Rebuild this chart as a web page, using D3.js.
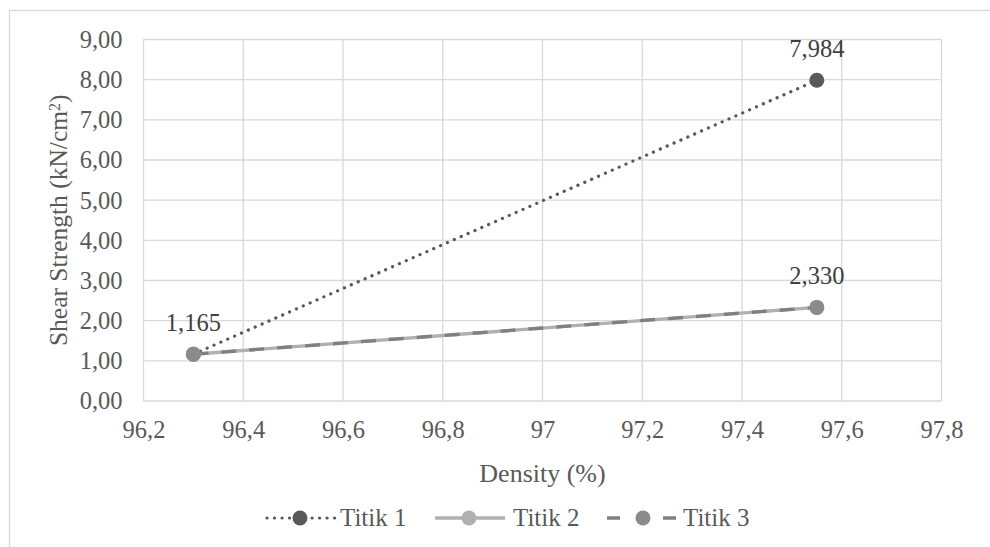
<!DOCTYPE html>
<html>
<head>
<meta charset="utf-8">
<script src="https://cdn.jsdelivr.net/npm/d3@7"></script>
<style>
  body { margin: 0; background: #fff; }
  svg { display: block; }
  svg text { font-family: 'Liberation Serif', 'Times New Roman', serif !important; }
</style>
</head>
<body>
<svg width="990" height="547"></svg>
<script>
// chart values
var density = [96.3, 97.55];
var titik1 = [1.165, 7.984];
var titik2 = [1.165, 2.330];
var titik3 = [1.165, 2.330];
var seriesNames = ["Titik 1", "Titik 2", "Titik 3"];
var xTicks = [96.2, 96.4, 96.6, 96.8, 97, 97.2, 97.4, 97.6, 97.8];
var yTicks = [0, 1, 2, 3, 4, 5, 6, 7, 8, 9];

var svg = d3.select("svg"),
    width = +svg.attr("width"),
    height = +svg.attr("height");

var pLeft = 143.5, pRight = 941.5, pTop = 39.5, pBottom = 401;
var serif = "'Liberation Serif', 'Times New Roman', serif";

var x = d3.scaleLinear().domain([96.2, 97.8]).range([pLeft, pRight]);
var y = d3.scaleLinear().domain([0, 9]).range([pBottom, pTop]);

var fmtX = function(d) { return String(d).replace(".", ","); };
var fmtY = function(d) { return d.toFixed(2).replace(".", ","); };
var fmtLabel = function(d) { return d.toFixed(3).replace(".", ","); };

// outer chart border
svg.append("rect")
    .attr("x", 9.5).attr("y", 10.5)
    .attr("width", 1200).attr("height", 800)
    .attr("fill", "none")
    .attr("stroke", "#d9d9d9")
    .attr("stroke-width", 1.3);

// grid
var grid = svg.append("g").attr("stroke", "#d9d9d9").attr("stroke-width", 1.3);
grid.selectAll(".gx").data(xTicks).enter().append("line")
    .attr("x1", function(d) { return x(d); }).attr("x2", function(d) { return x(d); })
    .attr("y1", pTop).attr("y2", pBottom);
grid.selectAll(".gy").data(yTicks).enter().append("line")
    .attr("y1", function(d) { return y(d); }).attr("y2", function(d) { return y(d); })
    .attr("x1", pLeft).attr("x2", pRight);

// axes (labels only)
var xAxis = svg.append("g")
    .attr("transform", "translate(0," + pBottom + ")")
    .call(d3.axisBottom(x).tickValues(xTicks).tickFormat(fmtX).tickSize(0).tickPadding(20));
var yAxis = svg.append("g")
    .attr("transform", "translate(" + pLeft + ",0)")
    .call(d3.axisLeft(y).tickValues(yTicks).tickFormat(fmtY).tickSize(0).tickPadding(21));
[xAxis, yAxis].forEach(function(a) {
  a.attr("font-family", serif);
  a.select(".domain").remove();
  a.selectAll("text")
      .attr("fill", "#595959")
      .style("font-family", serif)
      .style("font-size", "24.5px");
});

// axis titles
svg.append("text")
    .attr("x", (pLeft + pRight) / 2).attr("y", 482)
    .attr("text-anchor", "middle")
    .attr("fill", "#595959")
    .style("font-family", serif)
    .style("font-size", "26px")
    .text("Density (%)");

var yt = svg.append("text")
    .attr("transform", "translate(67," + (pTop + pBottom) / 2 + ") rotate(-90)")
    .attr("text-anchor", "middle")
    .attr("fill", "#595959")
    .style("font-family", serif)
    .style("font-size", "25.5px");
yt.append("tspan").text("Shear Strength (kN/cm");
yt.append("tspan").attr("dy", "-0.45em").style("font-size", "16px").text("2");
yt.append("tspan").attr("dy", "0.3em").text(")");

// series
var series = [
  { name: seriesNames[0], values: titik1, color: "#595959", marker: "#595959", dash: "0.1 7.4", cap: "round", width: 3.2 },
  { name: seriesNames[1], values: titik2, color: "#b0b0b0", marker: "#b0b0b0", dash: null, cap: "butt", width: 3.4 },
  { name: seriesNames[2], values: titik3, color: "#808080", marker: "#8a8a8a", dash: "15 13", cap: "butt", width: 3.4 }
];

var line = d3.line()
    .x(function(d) { return x(d[0]); })
    .y(function(d) { return y(d[1]); });

series.forEach(function(s) {
  var pts = density.map(function(v, i) { return [v, s.values[i]]; });
  svg.append("path")
      .datum(pts)
      .attr("d", line)
      .attr("fill", "none")
      .attr("stroke", s.color)
      .attr("stroke-width", s.width)
      .attr("stroke-linecap", s.cap)
      .attr("stroke-dasharray", s.dash);
});

series.forEach(function(s) {
  var pts = density.map(function(v, i) { return [v, s.values[i]]; });
  svg.selectAll(null).data(pts).enter().append("circle")
      .attr("cx", function(d) { return x(d[0]); })
      .attr("cy", function(d) { return y(d[1]); })
      .attr("r", 7.5)
      .attr("fill", s.marker);
});

// data labels (unique points)
var labelPts = [];
series.forEach(function(s) {
  density.forEach(function(v, i) {
    var key = v + "|" + s.values[i];
    if (!labelPts.some(function(p) { return p.key === key; }))
      labelPts.push({ key: key, x: v, y: s.values[i] });
  });
});
svg.selectAll(".lbl").data(labelPts).enter().append("text")
    .attr("x", function(d) { return x(d.x); })
    .attr("y", function(d) { return y(d.y) - 23.5; })
    .attr("text-anchor", "middle")
    .attr("fill", "#404040")
    .style("font-family", serif)
    .style("font-size", "24.5px")
    .text(function(d) { return fmtLabel(d.y); });

// legend
var legY = 518;
var legend = [
  { x0: 267, xm: 300, x1: 335, tx: 340 },
  { x0: 435, xm: 469, x1: 505, tx: 513 },
  { x0: 607, xm: 643, x1: 680, tx: 683 }
];
var legDash = ["0.1 7.4", null, "13 43"];
series.forEach(function(s, i) {
  var L = legend[i];
  var g = svg.append("g");
  g.append("line")
      .attr("x1", L.x0).attr("x2", L.x1)
      .attr("y1", legY).attr("y2", legY)
      .attr("stroke", s.color)
      .attr("stroke-width", s.width)
      .attr("stroke-linecap", s.cap)
      .attr("stroke-dasharray", legDash[i]);
  g.append("circle")
      .attr("cx", L.xm).attr("cy", legY).attr("r", 7.5)
      .attr("fill", s.marker);
  g.append("text")
      .attr("x", L.tx).attr("y", legY + 8)
      .attr("fill", "#595959")
      .style("font-family", serif)
      .style("font-size", "25px")
      .text(s.name);
});
</script>
</body>
</html>
